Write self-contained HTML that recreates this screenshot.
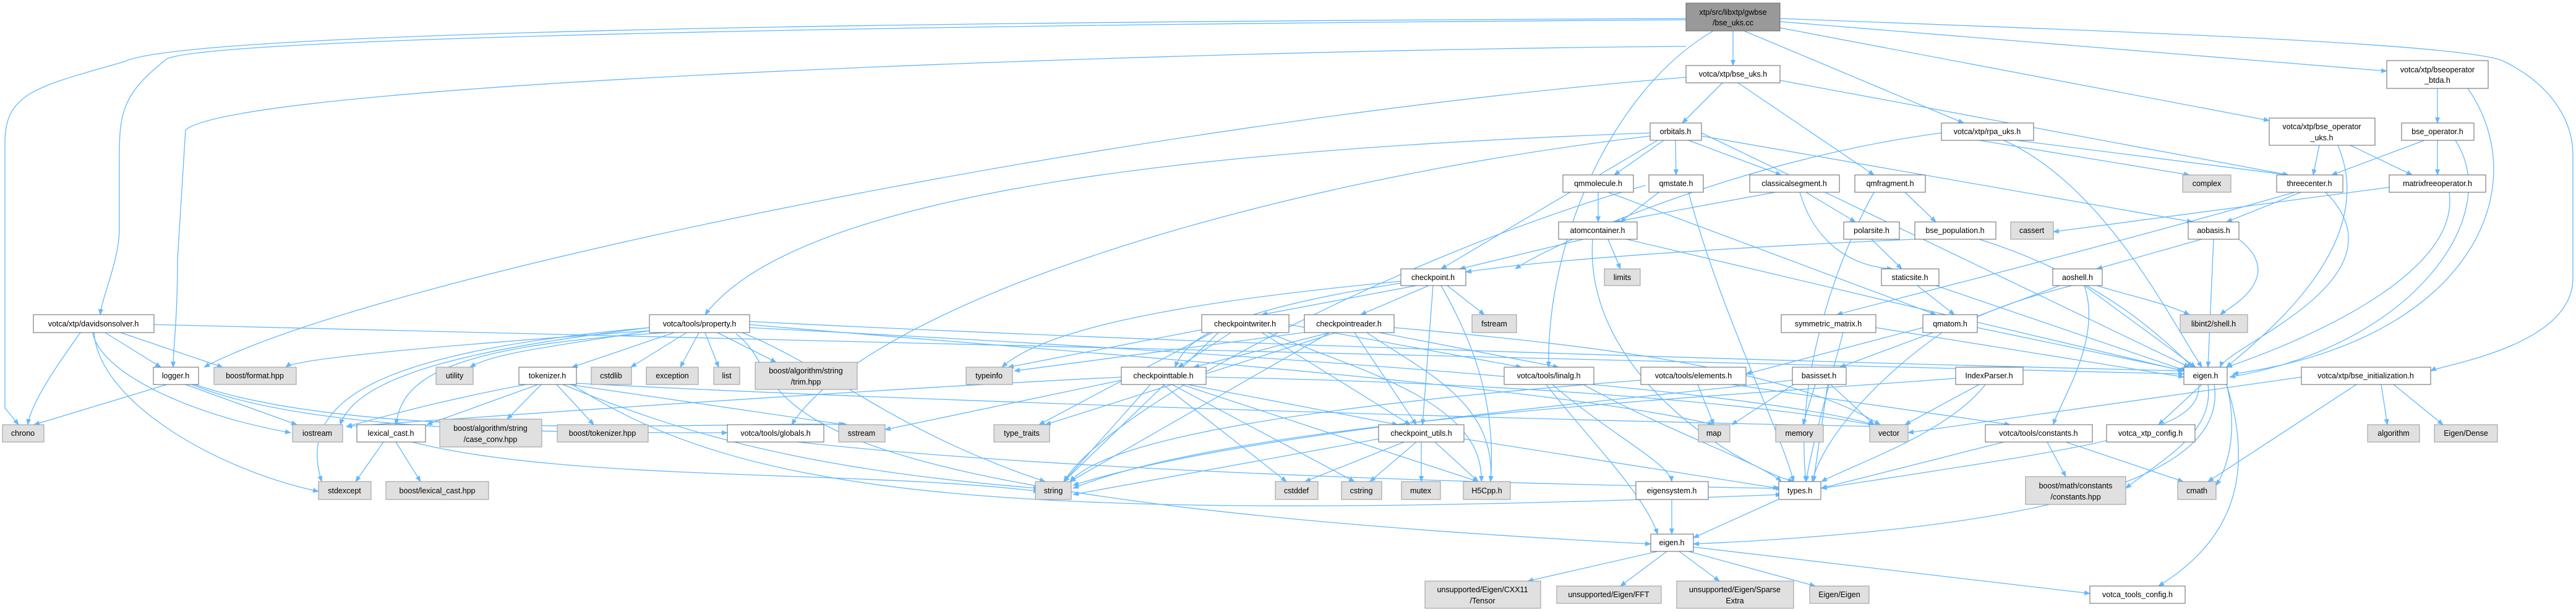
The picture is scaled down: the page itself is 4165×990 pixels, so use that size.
<!DOCTYPE html>
<html><head><meta charset="utf-8"><style>
html,body{margin:0;padding:0;background:#fff;}
svg{display:block;}
.e{fill:none;stroke:#63b8ff;stroke-width:1.3;marker-end:url(#a);}
.w{fill:#fff;stroke:#666;stroke-width:1;}
.g{fill:#e0e0e0;stroke:#999;stroke-width:1;}
.r{fill:#999;stroke:#666;stroke-width:1;}
text{font-family:"Liberation Sans",sans-serif;font-size:12.5px;fill:#000;text-anchor:middle;}
</style></head><body>
<svg width="4165" height="990" viewBox="0 0 4165 990" xmlns="http://www.w3.org/2000/svg">
<defs><marker id="a" markerWidth="10" markerHeight="10" refX="9" refY="5" orient="auto" markerUnits="userSpaceOnUse"><path d="M0,1 L10,5 L0,9 z" fill="#63b8ff"/></marker></defs>
<g>
<path class="e" d="M2726,30 C1500,35 300,50 200,100 C60,140 8,150 8,230 L8,660 L30,687"/>
<path class="e" d="M2726,32 C1500,40 350,60 270,95 C200,150 193,180 193,250 L193,370 C193,420 165,480 162,509"/>
<path class="e" d="M2726,75 C2000,80 400,130 300,210 L287,420 C287,520 280,560 280,594"/>
<path class="e" d="M2878,30 C3400,50 4000,70 4050,100 C4130,140 4160,200 4160,250 L4160,450 C4160,560 3950,590 3930,600"/>
<path class="e" d="M2802,50 L2802,106"/>
<path class="e" d="M2820,50 L3175,199"/>
<path class="e" d="M2878,45 L3669,195"/>
<path class="e" d="M2878,35 L3859,115"/>
<path class="e" d="M2770,50 C2600,150 2500,400 2504,594"/>
<path class="e" d="M2785,134 L2720,199"/>
<path class="e" d="M2810,134 L3030,283"/>
<path class="e" d="M2878,130 L3700,283"/>
<path class="e" d="M2726,125 C1800,200 600,450 330,594"/>
<path class="e" d="M2690,227 L2610,283"/>
<path class="e" d="M2709,227 L2710,283"/>
<path class="e" d="M2730,227 L2880,283"/>
<path class="e" d="M2751,220 L3545,359"/>
<path class="e" d="M2751,215 L3540,594"/>
<path class="e" d="M2680,227 L2330,435"/>
<path class="e" d="M2668,215 C2000,240 1300,300 1140,509"/>
<path class="e" d="M2668,220 C2000,300 1400,500 1280,687"/>
<path class="e" d="M3139,215 C2800,260 2500,400 2450,435"/>
<path class="e" d="M3200,227 L3540,283"/>
<path class="e" d="M3260,227 L3700,283"/>
<path class="e" d="M3240,227 C3400,300 3500,500 3560,594"/>
<path class="e" d="M3750,235 L3740,283"/>
<path class="e" d="M3800,235 L3900,283"/>
<path class="e" d="M3780,235 C3850,400 3650,550 3600,594"/>
<path class="e" d="M3941,143 L3941,199"/>
<path class="e" d="M3990,143 C4100,300 4000,550 3610,605"/>
<path class="e" d="M3920,227 L3770,283"/>
<path class="e" d="M3941,227 L3941,283"/>
<path class="e" d="M3970,227 C4050,350 3900,560 3605,610"/>
<path class="e" d="M2584,311 L2584,359"/>
<path class="e" d="M2600,311 L3130,509"/>
<path class="e" d="M2690,305 L2620,359"/>
<path class="e" d="M2730,311 C2780,500 2880,700 2900,779"/>
<path class="e" d="M2660,300 C2300,400 1800,650 1720,779"/>
<path class="e" d="M2870,311 L2610,359"/>
<path class="e" d="M2920,311 L3000,359"/>
<path class="e" d="M2910,311 C2930,380 2980,430 3060,435"/>
<path class="e" d="M3030,311 C2980,400 2900,600 2920,779"/>
<path class="e" d="M3080,311 L3130,359"/>
<path class="e" d="M3710,311 C3400,400 3000,500 2970,509"/>
<path class="e" d="M3720,311 L3600,359"/>
<path class="e" d="M3760,311 C3900,450 3600,560 3590,594"/>
<path class="e" d="M3863,303 L3320,375"/>
<path class="e" d="M3960,311 C3980,450 3700,560 3600,594"/>
<path class="e" d="M2560,387 L2360,435"/>
<path class="e" d="M2600,387 L2620,435"/>
<path class="e" d="M2630,387 L3530,600"/>
<path class="e" d="M2575,387 C2560,600 2800,750 2900,779"/>
<path class="e" d="M3026,387 L3075,435"/>
<path class="e" d="M3200,387 C3400,450 3500,550 3545,594"/>
<path class="e" d="M3096,387 C2800,400 2500,420 2370,440"/>
<path class="e" d="M3560,387 L3390,435"/>
<path class="e" d="M3579,387 L3570,594"/>
<path class="e" d="M3620,387 C3700,450 3600,500 3590,509"/>
<path class="e" d="M3100,462 L3160,509"/>
<path class="e" d="M3130,462 L3535,600"/>
<path class="e" d="M3330,462 L2975,594"/>
<path class="e" d="M3370,462 L3550,594"/>
<path class="e" d="M3350,462 C3200,500 3200,520 3190,509"/>
<path class="e" d="M3370,462 C3400,550 3330,650 3320,687"/>
<path class="e" d="M3390,462 C3450,480 3500,490 3540,509"/>
<path class="e" d="M2290,462 L2040,509"/>
<path class="e" d="M2310,462 L2200,509"/>
<path class="e" d="M2340,462 L2400,509"/>
<path class="e" d="M2317,462 L2300,687"/>
<path class="e" d="M2330,462 C2380,550 2420,650 2410,779"/>
<path class="e" d="M2265,455 C2000,480 1700,520 1620,594"/>
<path class="e" d="M2265,458 C2000,500 1920,540 1900,594"/>
<path class="e" d="M249,525 L3531,605"/>
<path class="e" d="M170,538 L260,594"/>
<path class="e" d="M195,538 L360,594"/>
<path class="e" d="M130,538 C100,580 50,650 45,687"/>
<path class="e" d="M150,538 C160,600 300,670 470,700"/>
<path class="e" d="M152,538 C160,650 350,760 515,795"/>
<path class="e" d="M1090,538 L925,594"/>
<path class="e" d="M1110,538 L1020,594"/>
<path class="e" d="M1130,538 L1100,594"/>
<path class="e" d="M1140,538 L1162,594"/>
<path class="e" d="M1160,538 L1255,586"/>
<path class="e" d="M1050,535 C900,560 800,570 760,594"/>
<path class="e" d="M1050,530 C800,560 580,600 550,687"/>
<path class="e" d="M1080,538 C700,560 650,620 640,687"/>
<path class="e" d="M1050,535 C700,560 480,580 462,594"/>
<path class="e" d="M1050,530 C600,570 480,650 520,779"/>
<path class="e" d="M1212,525 C1600,560 2500,620 2770,687"/>
<path class="e" d="M1212,520 C1800,550 2700,580 3531,600"/>
<path class="e" d="M1200,538 C1350,600 1450,700 1690,779"/>
<path class="e" d="M1190,540 C1300,620 1100,800 2669,880"/>
<path class="e" d="M1212,530 C1800,560 2800,620 3030,687"/>
<path class="e" d="M1990,538 L1905,594"/>
<path class="e" d="M1950,532 L1630,594"/>
<path class="e" d="M1960,538 L1680,687"/>
<path class="e" d="M2040,538 L2280,687"/>
<path class="e" d="M1970,538 L1720,779"/>
<path class="e" d="M2050,538 C2200,600 2400,650 2395,779"/>
<path class="e" d="M2084,525 L2460,594"/>
<path class="e" d="M2150,538 L1930,594"/>
<path class="e" d="M2130,535 L1640,600"/>
<path class="e" d="M2160,538 L1690,687"/>
<path class="e" d="M2190,538 L2290,687"/>
<path class="e" d="M2150,538 L1730,779"/>
<path class="e" d="M2210,538 C2300,600 2420,650 2410,779"/>
<path class="e" d="M2230,538 L2520,594"/>
<path class="e" d="M2254,530 C2600,560 2900,600 3040,687"/>
<path class="e" d="M3033,530 L3531,610"/>
<path class="e" d="M2980,538 C2950,650 2930,720 2920,779"/>
<path class="e" d="M3197,530 L3533,600"/>
<path class="e" d="M3140,538 C3050,600 2950,700 2930,779"/>
<path class="e" d="M3109,530 L2823,605"/>
<path class="e" d="M270,622 L55,687"/>
<path class="e" d="M300,622 L480,687"/>
<path class="e" d="M310,622 C500,700 900,700 1176,700"/>
<path class="e" d="M315,622 C600,720 1200,680 1370,687"/>
<path class="e" d="M870,622 L690,687"/>
<path class="e" d="M875,622 L820,678"/>
<path class="e" d="M900,622 L960,687"/>
<path class="e" d="M920,622 L1365,687"/>
<path class="e" d="M850,622 C700,650 600,680 560,690"/>
<path class="e" d="M910,622 C1100,700 1300,760 1680,790"/>
<path class="e" d="M932,620 C1500,650 2500,680 3040,690"/>
<path class="e" d="M925,622 C1200,800 1600,850 2880,800"/>
<path class="e" d="M1860,622 L1720,779"/>
<path class="e" d="M1880,622 L2080,779"/>
<path class="e" d="M1895,622 L2190,779"/>
<path class="e" d="M1920,622 L2260,687"/>
<path class="e" d="M1910,622 L2390,779"/>
<path class="e" d="M1950,610 C2500,620 2900,660 3040,690"/>
<path class="e" d="M1813,610 C1400,630 700,680 560,690"/>
<path class="e" d="M1813,615 L1431,695"/>
<path class="e" d="M2510,622 C2600,700 2700,750 2703,779"/>
<path class="e" d="M2500,622 C2560,700 2660,800 2680,864"/>
<path class="e" d="M2560,622 C2700,700 2850,750 2880,779"/>
<path class="e" d="M2745,622 L2771,687"/>
<path class="e" d="M2653,615 C2200,650 1800,700 1730,779"/>
<path class="e" d="M2800,622 L3250,687"/>
<path class="e" d="M2900,622 L2800,687"/>
<path class="e" d="M2935,622 L2915,687"/>
<path class="e" d="M2960,622 L3030,687"/>
<path class="e" d="M2955,622 L2932,779"/>
<path class="e" d="M2898,615 C2600,650 2000,700 1735,785"/>
<path class="e" d="M3200,622 L3080,687"/>
<path class="e" d="M3210,622 C3150,700 3000,750 2945,779"/>
<path class="e" d="M3162,612 C2800,640 2000,680 1735,790"/>
<path class="e" d="M3560,622 L3490,687"/>
<path class="e" d="M3570,622 C3580,700 3500,740 3437,790"/>
<path class="e" d="M3555,622 C3560,700 3400,720 2945,790"/>
<path class="e" d="M3580,622 C3600,750 3400,850 2738,880"/>
<path class="e" d="M3600,622 C3650,780 3600,880 3490,948"/>
<path class="e" d="M3600,622 C3620,700 3600,760 3583,785"/>
<path class="e" d="M3850,622 L3860,687"/>
<path class="e" d="M3870,622 L3950,687"/>
<path class="e" d="M3810,622 L3570,779"/>
<path class="e" d="M3721,610 L3085,700"/>
<path class="e" d="M620,715 L575,779"/>
<path class="e" d="M640,715 L680,779"/>
<path class="e" d="M655,712 C900,780 1400,760 1680,795"/>
<path class="e" d="M1290,715 C1600,750 2200,780 2880,790"/>
<path class="e" d="M2270,715 L2110,779"/>
<path class="e" d="M2290,715 L2215,779"/>
<path class="e" d="M2298,715 L2298,779"/>
<path class="e" d="M2320,715 L2390,779"/>
<path class="e" d="M2229,710 L1735,800"/>
<path class="e" d="M2367,710 L2876,790"/>
<path class="e" d="M3240,715 L2944,790"/>
<path class="e" d="M3310,715 L3340,771"/>
<path class="e" d="M3340,715 L3530,779"/>
<path class="e" d="M2703,808 L2703,864"/>
<path class="e" d="M2875,808 L2738,870"/>
<path class="e" d="M2680,892 L2470,940"/>
<path class="e" d="M2695,892 L2620,948"/>
<path class="e" d="M2715,892 L2780,940"/>
<path class="e" d="M2730,892 L2935,948"/>
<path class="e" d="M2738,885 L3379,960"/>
</g>
<g>
<rect class="r" x="2726" y="5" width="152" height="45"/><text x="2802" y="24">xtp/src/libxtp/gwbse</text><text x="2802" y="41">/bse_uks.cc</text>
<rect class="w" x="2726" y="106" width="152" height="28"/><text x="2802" y="124">votca/xtp/bse_uks.h</text>
<rect class="w" x="3139" y="199" width="149" height="28"/><text x="3213" y="217">votca/xtp/rpa_uks.h</text>
<rect class="w" x="3669" y="191" width="171" height="44"/><text x="3754" y="209">votca/xtp/bse_operator</text><text x="3754" y="227">_uks.h</text>
<rect class="w" x="3859" y="98" width="164" height="45"/><text x="3941" y="117">votca/xtp/bseoperator</text><text x="3941" y="134">_btda.h</text>
<rect class="w" x="3883" y="199" width="117" height="28"/><text x="3941" y="217">bse_operator.h</text>
<rect class="w" x="2668" y="199" width="83" height="28"/><text x="2709" y="217">orbitals.h</text>
<rect class="w" x="2527" y="283" width="114" height="28"/><text x="2584" y="301">qmmolecule.h</text>
<rect class="w" x="2666" y="283" width="88" height="28"/><text x="2710" y="301">qmstate.h</text>
<rect class="w" x="2829" y="283" width="145" height="28"/><text x="2901" y="301">classicalsegment.h</text>
<rect class="w" x="2999" y="283" width="114" height="28"/><text x="3056" y="301">qmfragment.h</text>
<rect class="g" x="3529" y="283" width="78" height="28"/><text x="3568" y="301">complex</text>
<rect class="w" x="3681" y="283" width="107" height="28"/><text x="3734" y="301">threecenter.h</text>
<rect class="w" x="3863" y="283" width="156" height="28"/><text x="3941" y="301">matrixfreeoperator.h</text>
<rect class="w" x="2520" y="359" width="127" height="28"/><text x="2583" y="377">atomcontainer.h</text>
<rect class="w" x="2981" y="359" width="90" height="28"/><text x="3026" y="377">polarsite.h</text>
<rect class="w" x="3096" y="359" width="131" height="28"/><text x="3161" y="377">bse_population.h</text>
<rect class="g" x="3251" y="359" width="69" height="28"/><text x="3285" y="377">cassert</text>
<rect class="w" x="3538" y="359" width="82" height="28"/><text x="3579" y="377">aobasis.h</text>
<rect class="w" x="2265" y="435" width="105" height="27"/><text x="2317" y="453">checkpoint.h</text>
<rect class="g" x="2594" y="435" width="58" height="27"/><text x="2623" y="453">limits</text>
<rect class="w" x="3042" y="435" width="93" height="27"/><text x="3088" y="453">staticsite.h</text>
<rect class="w" x="3319" y="435" width="80" height="27"/><text x="3359" y="453">aoshell.h</text>
<rect class="w" x="54" y="509" width="195" height="29"/><text x="151" y="528">votca/xtp/davidsonsolver.h</text>
<rect class="w" x="1050" y="509" width="162" height="29"/><text x="1131" y="528">votca/tools/property.h</text>
<rect class="w" x="1943" y="509" width="141" height="29"/><text x="2013" y="528">checkpointwriter.h</text>
<rect class="w" x="2109" y="509" width="145" height="29"/><text x="2181" y="528">checkpointreader.h</text>
<rect class="g" x="2380" y="509" width="72" height="29"/><text x="2416" y="528">fstream</text>
<rect class="w" x="2880" y="509" width="153" height="29"/><text x="2956" y="528">symmetric_matrix.h</text>
<rect class="w" x="3109" y="509" width="88" height="29"/><text x="3153" y="528">qmatom.h</text>
<rect class="g" x="3525" y="509" width="109" height="29"/><text x="3579" y="528">libint2/shell.h</text>
<rect class="w" x="248" y="594" width="73" height="28"/><text x="284" y="612">logger.h</text>
<rect class="g" x="346" y="594" width="133" height="28"/><text x="412" y="612">boost/format.hpp</text>
<rect class="g" x="705" y="594" width="60" height="28"/><text x="735" y="612">utility</text>
<rect class="w" x="839" y="594" width="93" height="28"/><text x="885" y="612">tokenizer.h</text>
<rect class="g" x="956" y="594" width="65" height="28"/><text x="988" y="612">cstdlib</text>
<rect class="g" x="1045" y="594" width="84" height="28"/><text x="1087" y="612">exception</text>
<rect class="g" x="1154" y="594" width="42" height="28"/><text x="1175" y="612">list</text>
<rect class="g" x="1221" y="586" width="165" height="44"/><text x="1303" y="604">boost/algorithm/string</text><text x="1303" y="622">/trim.hpp</text>
<rect class="g" x="1562" y="594" width="75" height="28"/><text x="1599" y="612">typeinfo</text>
<rect class="w" x="1813" y="594" width="137" height="28"/><text x="1881" y="612">checkpointtable.h</text>
<rect class="w" x="2432" y="594" width="145" height="28"/><text x="2504" y="612">votca/tools/linalg.h</text>
<rect class="w" x="2653" y="594" width="170" height="28"/><text x="2738" y="612">votca/tools/elements.h</text>
<rect class="w" x="2898" y="594" width="87" height="28"/><text x="2941" y="612">basisset.h</text>
<rect class="w" x="3162" y="594" width="109" height="28"/><text x="3216" y="612">IndexParser.h</text>
<rect class="w" x="3531" y="594" width="70" height="28"/><text x="3566" y="612">eigen.h</text>
<rect class="w" x="3721" y="594" width="209" height="28"/><text x="3825" y="612">votca/xtp/bse_initialization.h</text>
<rect class="g" x="4" y="687" width="67" height="28"/><text x="37" y="705">chrono</text>
<rect class="g" x="473" y="687" width="81" height="28"/><text x="513" y="705">iostream</text>
<rect class="w" x="577" y="687" width="111" height="28"/><text x="632" y="705">lexical_cast.h</text>
<rect class="g" x="711" y="678" width="165" height="45"/><text x="793" y="697">boost/algorithm/string</text><text x="793" y="715">/case_conv.hpp</text>
<rect class="g" x="901" y="687" width="147" height="28"/><text x="974" y="705">boost/tokenizer.hpp</text>
<rect class="w" x="1176" y="687" width="156" height="28"/><text x="1254" y="705">votca/tools/globals.h</text>
<rect class="g" x="1356" y="687" width="75" height="28"/><text x="1393" y="705">sstream</text>
<rect class="g" x="1607" y="687" width="90" height="28"/><text x="1652" y="705">type_traits</text>
<rect class="w" x="2229" y="687" width="138" height="28"/><text x="2298" y="705">checkpoint_utils.h</text>
<rect class="g" x="2746" y="687" width="51" height="28"/><text x="2771" y="705">map</text>
<rect class="g" x="2871" y="687" width="77" height="28"/><text x="2909" y="705">memory</text>
<rect class="g" x="3023" y="687" width="62" height="28"/><text x="3054" y="705">vector</text>
<rect class="w" x="3210" y="687" width="173" height="28"/><text x="3296" y="705">votca/tools/constants.h</text>
<rect class="w" x="3406" y="687" width="143" height="28"/><text x="3477" y="705">votca_xtp_config.h</text>
<rect class="g" x="3828" y="687" width="84" height="28"/><text x="3870" y="705">algorithm</text>
<rect class="g" x="3936" y="687" width="102" height="28"/><text x="3987" y="705">Eigen/Dense</text>
<rect class="g" x="515" y="779" width="85" height="29"/><text x="557" y="798">stdexcept</text>
<rect class="g" x="624" y="779" width="166" height="29"/><text x="707" y="798">boost/lexical_cast.hpp</text>
<rect class="g" x="1674" y="779" width="58" height="29"/><text x="1703" y="798">string</text>
<rect class="g" x="2062" y="779" width="69" height="29"/><text x="2096" y="798">cstddef</text>
<rect class="g" x="2169" y="779" width="65" height="29"/><text x="2201" y="798">cstring</text>
<rect class="g" x="2266" y="779" width="63" height="29"/><text x="2297" y="798">mutex</text>
<rect class="g" x="2366" y="779" width="76" height="29"/><text x="2404" y="798">H5Cpp.h</text>
<rect class="w" x="2645" y="779" width="117" height="29"/><text x="2703" y="798">eigensystem.h</text>
<rect class="w" x="2876" y="779" width="68" height="29"/><text x="2910" y="798">types.h</text>
<rect class="g" x="3275" y="771" width="162" height="45"/><text x="3356" y="790">boost/math/constants</text><text x="3356" y="808">/constants.hpp</text>
<rect class="g" x="3521" y="779" width="62" height="29"/><text x="3552" y="798">cmath</text>
<rect class="w" x="2669" y="864" width="69" height="28"/><text x="2703" y="882">eigen.h</text>
<rect class="g" x="2304" y="940" width="187" height="44"/><text x="2397" y="958">unsupported/Eigen/CXX11</text><text x="2397" y="976">/Tensor</text>
<rect class="g" x="2517" y="948" width="169" height="28"/><text x="2601" y="966">unsupported/Eigen/FFT</text>
<rect class="g" x="2711" y="940" width="189" height="44"/><text x="2805" y="958">unsupported/Eigen/Sparse</text><text x="2805" y="976">Extra</text>
<rect class="g" x="2926" y="948" width="96" height="28"/><text x="2974" y="966">Eigen/Eigen</text>
<rect class="w" x="3379" y="948" width="154" height="28"/><text x="3456" y="966">votca_tools_config.h</text>
</g>
</svg>
</body></html>
